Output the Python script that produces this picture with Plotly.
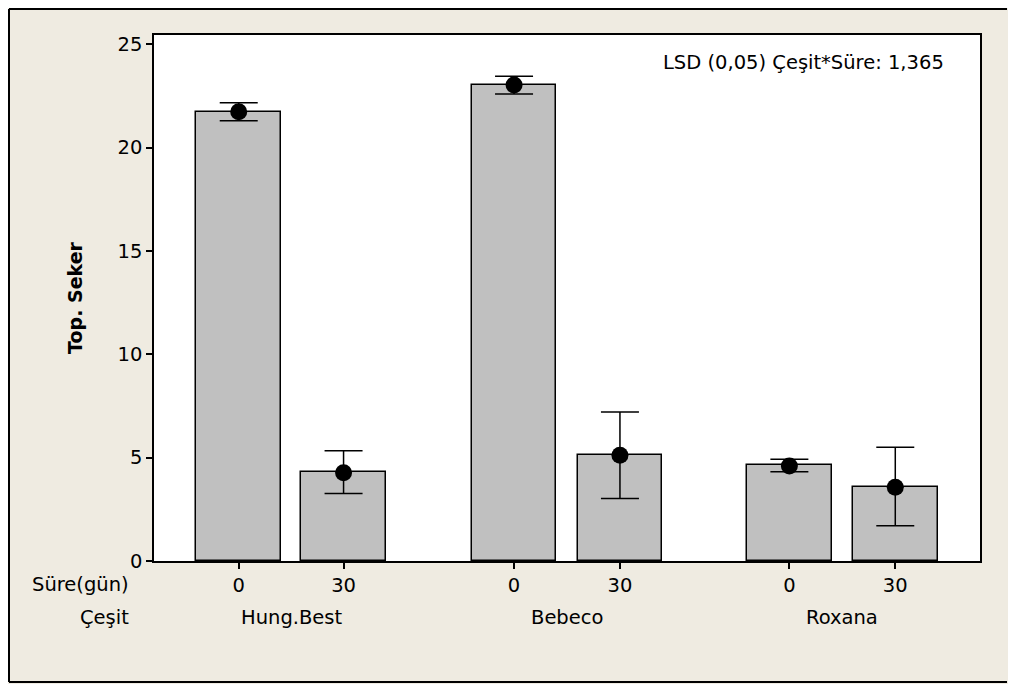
import plotly.graph_objects as go

# ---- data ----
varieties = ["Hung.Best", "Bebeco", "Roxana"]
durations = ["0", "30"]
x_pos = [0.0, 0.99, 2.6, 3.6, 5.2, 6.2]
bar_values = [21.74, 4.32, 23.03, 5.15, 4.64, 3.60]
point_values = [21.74, 4.27, 23.03, 5.12, 4.60, 3.57]
err_upper = [22.17, 5.34, 23.46, 7.21, 4.92, 5.50]
err_lower = [21.30, 3.27, 22.59, 3.02, 4.32, 1.71]
tick_labels = [d for _ in varieties for d in durations]
group_centers = [(x_pos[2 * i] + x_pos[2 * i + 1]) / 2 for i in range(len(varieties))]

FONT = "DejaVu Sans"
BG = "#EFEBE1"

fig = go.Figure()
fig.add_trace(go.Bar(
    x=x_pos, y=bar_values, width=0.8,
    marker=dict(color="#C0C0C0", line=dict(color="black", width=1.5)),
    showlegend=False, hoverinfo="skip",
))
fig.add_trace(go.Scatter(
    x=x_pos, y=point_values, mode="markers",
    marker=dict(color="black", size=17, line=dict(width=0)),
    error_y=dict(type="data", symmetric=False,
                 array=[u - p for u, p in zip(err_upper, point_values)],
                 arrayminus=[p - l for p, l in zip(point_values, err_lower)],
                 color="black", thickness=1.5, width=19),
    showlegend=False,
))

OFF = 8
W, H = 1016, 684
ml, mt = 154 - OFF, 35 - OFF
pw, ph = 826, 526
mr, mb = W - ml - pw, H - mt - ph

def px_to_paper_x(px):
    return (px - OFF - ml) / pw

def py_to_paper_y(py):
    return (H - mb - (py - OFF)) / ph

annotations = []
for name, cx in zip(varieties, group_centers):
    annotations.append(dict(x=cx, xref="x", y=py_to_paper_y(617), yref="paper",
                            text=name, showarrow=False, xanchor="center", yanchor="middle",
                            font=dict(family=FONT, size=19.5, color="black")))
annotations.append(dict(x=px_to_paper_x(131), xref="paper", y=py_to_paper_y(584), yref="paper",
                        text="Süre(gün)", showarrow=False, xanchor="right", yanchor="middle",
                        font=dict(family=FONT, size=19.5, color="black")))
annotations.append(dict(x=px_to_paper_x(131), xref="paper", y=py_to_paper_y(617), yref="paper",
                        text="Çeşit", showarrow=False, xanchor="right", yanchor="middle",
                        font=dict(family=FONT, size=19.5, color="black")))
annotations.append(dict(x=px_to_paper_x(946), xref="paper", y=py_to_paper_y(62), yref="paper",
                        text="LSD (0,05) Çeşit*Süre: 1,365", showarrow=False,
                        xanchor="right", yanchor="middle",
                        font=dict(family=FONT, size=19.5, color="black")))

fx0, fx1 = px_to_paper_x(9), px_to_paper_x(1007)
fy0, fy1 = py_to_paper_y(682), py_to_paper_y(9)
frame_line = dict(color="black", width=2)
shapes = [
    dict(type="line", xref="paper", yref="paper", x0=fx0, x1=fx0, y0=fy0, y1=fy1, line=frame_line),
    dict(type="line", xref="paper", yref="paper", x0=fx0, x1=fx1, y0=fy1, y1=fy1, line=frame_line),
    dict(type="line", xref="paper", yref="paper", x0=fx0, x1=fx1, y0=fy0, y1=fy0, line=frame_line),
]

fig.update_layout(
    width=W, height=H,
    margin=dict(l=ml, r=mr, t=mt, b=mb),
    paper_bgcolor=BG, plot_bgcolor="white",
    font=dict(family=FONT, size=19.5, color="black"),
    bargap=0,
    annotations=annotations,
    shapes=shapes,
)
fig.update_xaxes(
    range=[-0.8, 7.0], tickvals=x_pos, ticktext=tick_labels,
    showline=True, linecolor="black", linewidth=1.5, mirror=True,
    ticks="outside", ticklen=6, tickwidth=1.5, tickcolor="black",
    showgrid=False, zeroline=False, tickfont=dict(family=FONT, size=19.5),
    ticklabelstandoff=0,
)
fig.update_yaxes(
    range=[0, 25.45], tickvals=[0, 5, 10, 15, 20, 25],
    showline=True, linecolor="black", linewidth=1.5, mirror=True,
    ticks="outside", ticklen=6, tickwidth=1.5, tickcolor="black",
    showgrid=False, zeroline=False, tickfont=dict(family=FONT, size=19.5),
    title=dict(text="<b>Top. Seker</b>", font=dict(family=FONT, size=19), standoff=30),
)

fig.write_html("out.html")
